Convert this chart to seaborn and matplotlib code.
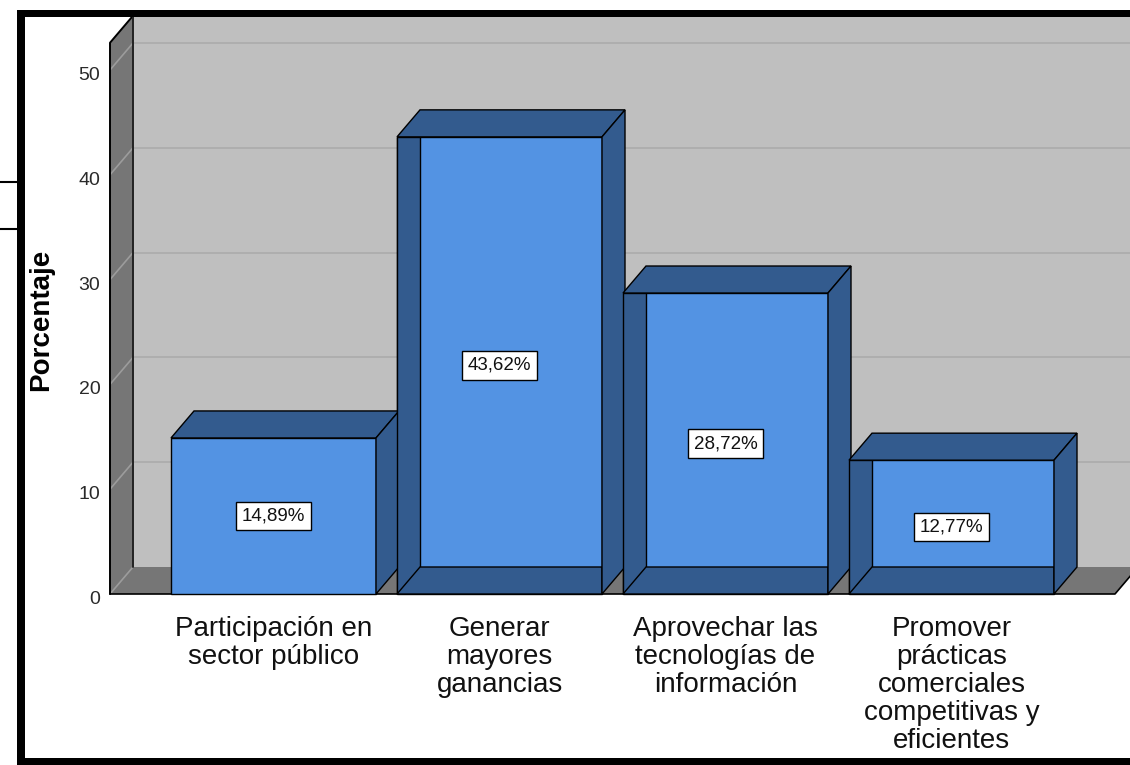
import matplotlib
matplotlib.use("Agg")
import matplotlib.pyplot as plt
import seaborn as sns
import pandas as pd
from matplotlib.patches import Polygon, Rectangle
from matplotlib.lines import Line2D
from matplotlib.transforms import ScaledTranslation

# ---------------- data ----------------
categories = [
    "Participación en sector público",
    "Generar mayores ganancias",
    "Aprovechar las tecnologías de información",
    "Promover prácticas comerciales competitivas y eficientes",
]
tick_labels = [
    "Participación en\nsector público",
    "Generar\nmayores\nganancias",
    "Aprovechar las\ntecnologías de\ninformación",
    "Promover\nprácticas\ncomerciales\ncompetitivas y\neficientes",
]
percentages = [14.89, 43.62, 28.72, 12.77]
value_labels = ["14,89%", "43,62%", "28,72%", "12,77%"]
y_ticks = [0, 10, 20, 30, 40, 50]
y_label = "Porcentaje"

# ---------------- style ----------------
LIGHT = "#5393E3"
DARK = "#335B8E"
WALL = "#BFBFBF"
SIDE = "#767676"
GRID_BACK = "#ABABAB"
GRID_SIDE = "#9C9C9C"

sns.set_theme(style="white")
plt.rcParams["font.family"] = ["Liberation Sans", "DejaVu Sans"]

W, H = 1130, 765
PX_X = 226.0      # pixels per category step
PX_Y = 10.48      # pixels per percentage point
ZERO_PX = 594.0   # pixel row of value 0 (front plane)
C0_PX = 273.5     # pixel column of first category
AX_L, AX_R, AX_B, AX_T = 110, 1130, 598, 12
DX = 23 / PX_X    # 3D depth offset (x units)
DY = 27 / PX_Y    # 3D depth offset (y units)
BAR_W = 205 / PX_X
WALL_TOP = 52.6
FLOOR_R = (1115 - C0_PX) / PX_X

fig = plt.figure(figsize=(W / 100, H / 100), dpi=100)
ax = fig.add_axes([AX_L / W, 1 - AX_B / H, (AX_R - AX_L) / W, (AX_B - AX_T) / H])

df = pd.DataFrame({"cat": categories, "pct": percentages})
sns.barplot(data=df, x="cat", y="pct", ax=ax, color=LIGHT, saturation=1,
            width=BAR_W, edgecolor="black", linewidth=1.0, zorder=3)
bars = list(ax.patches)[:len(percentages)]

x0 = (AX_L - C0_PX) / PX_X
x1 = (AX_R - C0_PX) / PX_X
y0 = -(AX_B - ZERO_PX) / PX_Y
y1 = (ZERO_PX - AX_T) / PX_Y
ax.set_xlim(x0, x1)
ax.set_ylim(y0, y1)

# back wall
ax.add_patch(Rectangle((x0 + DX, DY), x1 - x0 + 1, y1 + 5, facecolor=WALL,
                       edgecolor="none", zorder=0))
for v in y_ticks[1:]:
    ax.add_line(Line2D([x0 + DX, x1 + 1], [v + DY, v + DY], color=GRID_BACK,
                       lw=1.2, zorder=0.5))
# floor
ax.add_patch(Polygon([(x0, 0), (FLOOR_R, 0), (FLOOR_R + DX, DY), (x0 + DX, DY)],
                     closed=True, facecolor=SIDE, edgecolor="none", zorder=1,
                     clip_on=False))
ax.add_line(Line2D([x0, FLOOR_R, FLOOR_R + DX], [0, 0, DY], color="black",
                   lw=1.2, zorder=1.3, clip_on=False))
# side wall
ax.add_patch(Polygon([(x0, 0), (x0, WALL_TOP), (x0 + DX, WALL_TOP + DY), (x0 + DX, DY)],
                     closed=True, facecolor=SIDE, edgecolor="none", zorder=1,
                     clip_on=False))
for v in y_ticks[1:]:
    ax.add_line(Line2D([x0, x0 + DX], [v, v + DY], color=GRID_SIDE, lw=1.2,
                       zorder=1.2, clip_on=False))
ax.add_line(Line2D([x0 + DX, x0], [DY, 0], color=GRID_SIDE, lw=1.2, zorder=1.2,
                   clip_on=False))
ax.add_line(Line2D([x0, x0, x0 + DX], [0, WALL_TOP, WALL_TOP + DY], color="black",
                   lw=1.4, zorder=1.3, clip_on=False))
ax.add_line(Line2D([x0 + DX, x0 + DX], [DY, y1 + 5], color="#222222", lw=1.4,
                   zorder=1.3))

# 3D faces of bars
ekw = dict(edgecolor="black", linewidth=1.0, facecolor=DARK, zorder=3.5)
for i, p in enumerate(bars):
    x, w, h = p.get_x(), p.get_width(), p.get_height()
    if i > 0:
        ax.add_patch(Polygon([(x, 0), (x, h), (x + DX, h), (x + DX, DY)], **ekw))
        ax.add_patch(Polygon([(x, 0), (x + DX, DY), (x + w, DY), (x + w, 0)], **ekw))
    ax.add_patch(Polygon([(x, h), (x + DX, h + DY), (x + w + DX, h + DY), (x + w, h)], **ekw))
    ax.add_patch(Polygon([(x + w, 0), (x + w, h), (x + w + DX, h + DY), (x + w + DX, DY)], **ekw))
    ax.text(x + w / 2, h / 2, value_labels[i], ha="center", va="center",
            fontsize=13.5, color="#111111", zorder=6,
            bbox=dict(boxstyle="square,pad=0.3", facecolor="white",
                      edgecolor="black", linewidth=1.0))

# axes decoration
for s in ax.spines.values():
    s.set_visible(False)
ax.set_facecolor("none")
ax.grid(False)
ax.set_yticks(y_ticks)
ax.set_yticklabels([str(t) for t in y_ticks])
ax.tick_params(axis="y", length=0, pad=7, labelsize=14, labelcolor="#2A2A2A")
shift = ScaledTranslation(0, -2.5 / 72, fig.dpi_scale_trans)
for lab in ax.get_yticklabels():
    lab.set_transform(lab.get_transform() + shift)
ax.set_xticks(range(len(tick_labels)))
ax.set_xticklabels(tick_labels, fontsize=20, color="#111111", linespacing=1.1)
ax.tick_params(axis="x", length=0, pad=13)
ax.set_xlabel("")
ax.set_ylabel(y_label, fontsize=20, fontweight="bold", color="black", va="center")
ax.yaxis.set_label_coords((41 - AX_L) / (AX_R - AX_L), (AX_B - 320) / (AX_B - AX_T))

# screenshot frame
def px_rect(xa, ya, xb, yb):
    return Rectangle((xa / W, 1 - yb / H), (xb - xa) / W, (yb - ya) / H,
                     transform=fig.transFigure, facecolor="black",
                     edgecolor="none", zorder=10)

fig.add_artist(px_rect(17, 10, W + 5, 17))
fig.add_artist(px_rect(17, 10, 25, H + 5))
fig.add_artist(px_rect(17, 758, W + 5, H + 5))
for yy in (182, 229):
    fig.add_artist(Line2D([0, 17 / W], [1 - yy / H, 1 - yy / H],
                          transform=fig.transFigure, color="black", lw=1.5))

fig.savefig("out.png", dpi=100, facecolor="white")
